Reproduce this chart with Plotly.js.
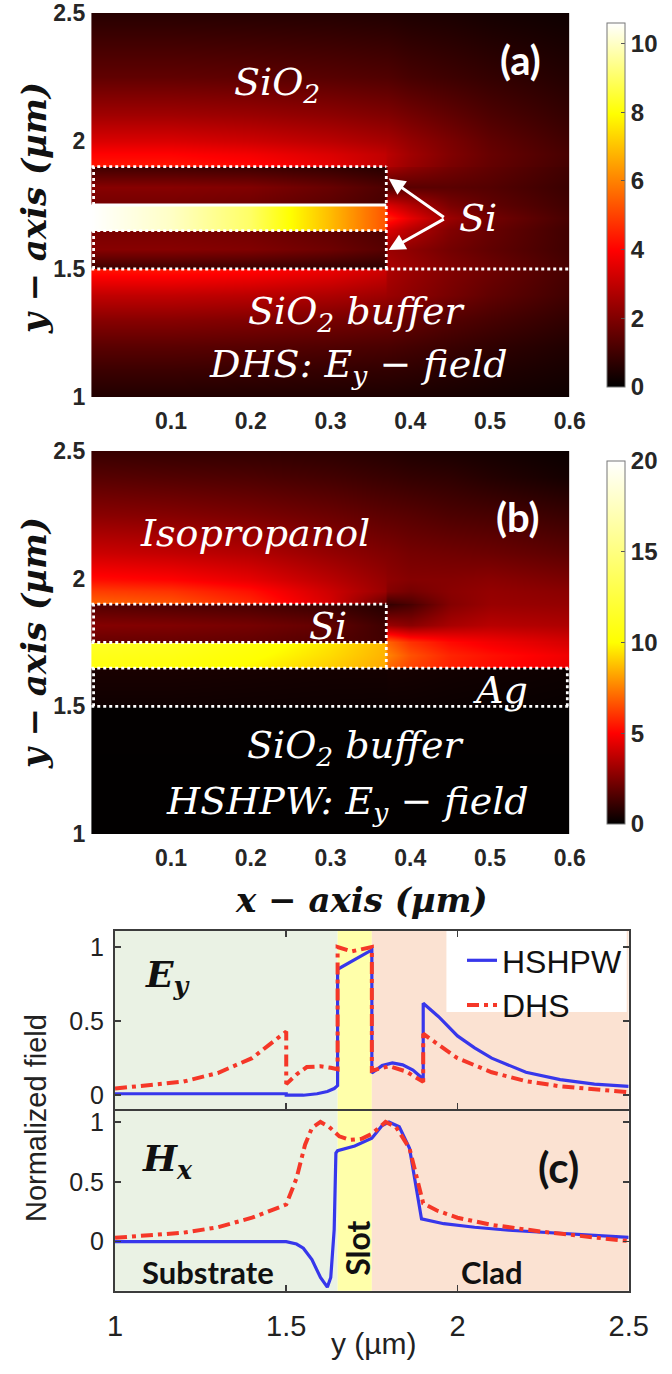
<!DOCTYPE html>
<html><head><meta charset="utf-8">
<script src="https://cdn.plot.ly/plotly-3.0.1.min.js"></script>
<style>html,body{margin:0;padding:0;background:#fff}#chart{width:672px;height:1374px}</style>
</head><body><div id="chart"></div>
<script>
// ---------- DATA ----------
// Panel (a): DHS Ey field map (colour bar 0..10.6)
const xGridA = [0, 0.1, 0.2, 0.3, 0.369, 0.371, 0.4, 0.45, 0.5, 0.6];
const yGridA = [1.0, 1.1, 1.2, 1.3, 1.4, 1.499, 1.501, 1.58, 1.649, 1.651, 1.7, 1.749, 1.751, 1.82, 1.899, 1.901, 1.95, 2.0, 2.1, 2.25, 2.5];
const fieldA = [
  [0.5, 0.5, 0.48, 0.45, 0.43, 0.43, 0.4, 0.35, 0.3, 0.2],
  [0.9, 0.9, 0.86, 0.8, 0.75, 0.75, 0.7, 0.6, 0.5, 0.35],
  [1.4, 1.4, 1.35, 1.25, 1.15, 1.15, 1.05, 0.9, 0.75, 0.5],
  [2.1, 2.1, 2.0, 1.85, 1.7, 1.7, 1.55, 1.3, 1.1, 0.75],
  [3.0, 3.0, 2.9, 2.7, 2.45, 2.4, 2.2, 1.85, 1.5, 1.0],
  [4.3, 4.3, 4.1, 3.7, 3.2, 2.7, 2.4, 2.0, 1.7, 1.1],
  [0.9, 0.9, 0.85, 0.75, 0.65, 2.7, 2.4, 2.0, 1.7, 1.1],
  [2.1, 2.1, 2.0, 1.7, 1.35, 2.4, 2.2, 1.8, 1.5, 1.0],
  [1.9, 1.9, 1.8, 1.5, 1.2, 3.4, 2.8, 2.0, 1.6, 1.0],
  [10.6, 10.0, 9.0, 6.9, 5.3, 3.4, 2.8, 2.0, 1.6, 1.0],
  [10.6, 10.0, 9.0, 6.9, 5.3, 4.5, 3.6, 2.4, 1.8, 1.1],
  [10.6, 10.0, 9.0, 6.9, 5.3, 3.4, 2.8, 1.9, 1.5, 1.0],
  [1.8, 1.8, 1.7, 1.4, 1.1, 3.4, 2.8, 1.9, 1.5, 1.0],
  [2.1, 2.1, 2.0, 1.6, 1.2, 1.2, 1.4, 1.4, 1.3, 0.9],
  [1.0, 1.0, 0.95, 0.8, 0.6, 2.6, 2.2, 1.8, 1.5, 1.0],
  [4.3, 4.3, 4.1, 3.6, 3.0, 2.8, 2.4, 1.9, 1.55, 1.05],
  [4.0, 4.0, 3.8, 3.4, 3.0, 2.9, 2.5, 2.0, 1.6, 1.1],
  [3.4, 3.4, 3.2, 2.9, 2.6, 2.6, 2.3, 1.9, 1.5, 1.0],
  [2.5, 2.5, 2.4, 2.2, 2.0, 2.0, 1.8, 1.5, 1.2, 0.8],
  [1.5, 1.5, 1.45, 1.35, 1.25, 1.25, 1.1, 0.95, 0.8, 0.55],
  [0.6, 0.6, 0.58, 0.55, 0.5, 0.5, 0.45, 0.4, 0.32, 0.22]
];
// Panel (b): HSHPW Ey field map (colour bar 0..20)
const xGridB = [0, 0.1, 0.2, 0.3, 0.369, 0.371, 0.4, 0.45, 0.5, 0.6];
const yGridB = [1.0, 1.499, 1.501, 1.649, 1.651, 1.7, 1.749, 1.751, 1.82, 1.899, 1.901, 1.95, 2.0, 2.1, 2.25, 2.4, 2.5];
const fieldB = [
  [0.03, 0.03, 0.03, 0.03, 0.03, 0.03, 0.03, 0.03, 0.03, 0.03],
  [0.06, 0.06, 0.06, 0.06, 0.06, 0.06, 0.06, 0.06, 0.06, 0.06],
  [0.3, 0.3, 0.28, 0.26, 0.25, 0.25, 0.25, 0.22, 0.2, 0.15],
  [0.5, 0.5, 0.45, 0.4, 0.4, 0.45, 0.42, 0.36, 0.32, 0.25],
  [10.5, 10.3, 9.8, 9.0, 8.3, 7.0, 6.3, 5.6, 5.2, 4.6],
  [11.0, 10.8, 10.2, 9.3, 8.5, 7.6, 6.6, 5.7, 5.3, 4.7],
  [11.5, 11.2, 10.5, 9.5, 8.6, 7.0, 6.0, 5.2, 4.8, 4.2],
  [2.0, 2.0, 1.9, 1.6, 1.3, 7.0, 6.0, 5.2, 4.8, 4.2],
  [2.6, 2.5, 2.3, 1.9, 1.2, 3.0, 2.7, 3.3, 3.6, 3.4],
  [1.6, 1.5, 1.4, 1.1, 0.7, 1.0, 1.4, 2.6, 3.0, 2.9],
  [7.0, 6.7, 5.8, 4.2, 2.0, 1.1, 1.5, 2.6, 3.0, 2.9],
  [6.2, 6.0, 5.3, 4.0, 3.0, 2.6, 2.3, 2.7, 2.9, 2.7],
  [5.2, 5.0, 4.5, 3.6, 2.9, 2.8, 2.6, 2.6, 2.7, 2.4],
  [4.0, 3.8, 3.5, 2.9, 2.5, 2.5, 2.3, 2.2, 2.1, 1.8],
  [2.7, 2.6, 2.4, 2.1, 1.8, 1.8, 1.7, 1.5, 1.4, 1.1],
  [1.7, 1.6, 1.5, 1.3, 1.1, 1.1, 1.0, 0.9, 0.7, 0.4],
  [1.1, 1.0, 0.95, 0.85, 0.7, 0.7, 0.6, 0.5, 0.4, 0.2]
];
// Panel (c): normalized field profiles along y (um)
const eyHshpwY = [1.0, 1.2, 1.4, 1.5, 1.5, 1.55, 1.59, 1.62, 1.64, 1.65, 1.65, 1.75, 1.75, 1.78, 1.81, 1.84, 1.87, 1.9, 1.9, 1.945, 2.0, 2.05, 2.1, 2.2, 2.3, 2.4, 2.5];
const eyHshpwV = [0.01, 0.01, 0.01, 0.01, 0.0, 0.0, 0.01, 0.025, 0.045, 0.065, 0.85, 0.98, 0.15, 0.2, 0.218, 0.205, 0.17, 0.11, 0.62, 0.53, 0.4, 0.32, 0.25, 0.155, 0.105, 0.075, 0.06];
const eyDhsY = [1.0, 1.1, 1.2, 1.3, 1.4, 1.45, 1.5, 1.5, 1.53, 1.56, 1.6, 1.63, 1.65, 1.65, 1.69, 1.75, 1.75, 1.8, 1.85, 1.9, 1.9, 1.945, 2.0, 2.1, 2.2, 2.3, 2.4, 2.5];
const eyDhsV = [0.045, 0.066, 0.092, 0.15, 0.25, 0.34, 0.43, 0.075, 0.14, 0.19, 0.195, 0.185, 0.175, 1.0, 0.97, 1.0, 0.165, 0.196, 0.16, 0.09, 0.415, 0.34, 0.25, 0.155, 0.095, 0.06, 0.037, 0.02];
const hxHshpwY = [1.0, 1.5, 1.53, 1.55, 1.575, 1.6, 1.62, 1.63, 1.64, 1.645, 1.65, 1.7, 1.75, 1.78, 1.8, 1.83, 1.86, 1.895, 1.96, 2.05, 2.15, 2.25, 2.35, 2.5];
const hxHshpwV = [0.0, 0.0, -0.02, -0.055, -0.15, -0.3, -0.38, -0.3, 0.1, 0.74, 0.76, 0.8, 0.865, 0.97, 1.0, 0.96, 0.78, 0.19, 0.15, 0.12, 0.095, 0.078, 0.062, 0.035];
const hxDhsY = [1.0, 1.1, 1.2, 1.3, 1.4, 1.5, 1.53, 1.555, 1.575, 1.6, 1.625, 1.655, 1.685, 1.72, 1.75, 1.79, 1.82, 1.86, 1.9, 1.94, 2.0, 2.1, 2.25, 2.4, 2.5];
const hxDhsV = [0.032, 0.05, 0.075, 0.12, 0.2, 0.31, 0.53, 0.81, 0.95, 1.0, 0.96, 0.88, 0.85, 0.86, 0.9, 1.0, 0.96, 0.78, 0.32, 0.26, 0.2, 0.14, 0.082, 0.035, 0.005];
// region limits for shading, tick labels
const regionEdges = [1.0, 1.65, 1.75, 2.5];
const mapXTicks = [0.1, 0.2, 0.3, 0.4, 0.5, 0.6];
const mapYTicks = [1, 1.5, 2, 2.5];
const mapYTickText = ['1', '1.5', '2', '2.5'];
const cbTicksA = [0, 2, 4, 6, 8, 10];
const cbTicksB = [0, 5, 10, 15, 20];
const profXTicks = [1, 1.5, 2, 2.5];
const profYTicks = [0, 0.5, 1];

// ---------- STYLE / LAYOUT ----------
const W = 672, H = 1374;
const px = v => v / W, py = v => 1 - v / H;
const hotA = [[0, 'rgb(0,0,0)'], [0.375, 'rgb(255,0,0)'], [0.75, 'rgb(255,255,0)'], [1, 'rgb(255,255,255)']];
const hotB = [[0, 'rgb(0,0,0)'], [0.25, 'rgb(255,0,0)'], [0.5, 'rgb(255,255,0)'], [1, 'rgb(255,255,255)']];
const boldTick = {family: 'Liberation Sans, Arial, sans-serif', size: 23, color: '#262626', weight: 'bold'};
const profTick = {family: 'Liberation Sans, Arial, sans-serif', size: 29, color: '#222'};
const profTickY = {family: 'Liberation Sans, Arial, sans-serif', size: 25, color: '#222'};
const frame = '#3c3c3c';

function cb(y0pix, y1pix, tv) {
  return {x: px(612), xanchor: 'left', thickness: 18, lenmode: 'pixels', len: y1pix - y0pix,
    y: py((y0pix + y1pix) / 2), yanchor: 'middle', tickvals: tv, ticks: 'inside', ticklen: 4,
    tickcolor: '#555', outlinewidth: 1, outlinecolor: '#777', tickfont: Object.assign({}, boldTick, {size: 24}), ticklabelpad: 8};
}

const redLine = {color: 'rgb(245,55,40)', width: 4, dash: '12px,5px,4px,5px'};
const blueLine = {color: 'rgb(55,55,235)', width: 3.2};
const traces = [
  {type: 'heatmap', x: xGridA, y: yGridA, z: fieldA, xaxis: 'x', yaxis: 'y', zsmooth: 'best',
   colorscale: hotA, zmin: 0, zmax: 10.6, colorbar: cb(13, 397, cbTicksA), hoverinfo: 'skip', showlegend: false},
  {type: 'heatmap', x: xGridB, y: yGridB, z: fieldB, xaxis: 'x2', yaxis: 'y2', zsmooth: 'best',
   colorscale: hotB, zmin: 0, zmax: 20, colorbar: cb(451, 834, cbTicksB), hoverinfo: 'skip', showlegend: false},
  {type: 'scatter', mode: 'lines', x: eyHshpwY, y: eyHshpwV, xaxis: 'x3', yaxis: 'y3', name: 'HSHPW',
   line: blueLine, legendgroup: 'h'},
  {type: 'scatter', mode: 'lines', x: eyDhsY, y: eyDhsV, xaxis: 'x3', yaxis: 'y3', name: 'DHS',
   line: redLine, legendgroup: 'd'},
  {type: 'scatter', mode: 'lines', x: hxHshpwY, y: hxHshpwV, xaxis: 'x4', yaxis: 'y4', name: 'HSHPW',
   line: blueLine, showlegend: false, legendgroup: 'h'},
  {type: 'scatter', mode: 'lines', x: hxDhsY, y: hxDhsV, xaxis: 'x4', yaxis: 'y4', name: 'DHS',
   line: redLine, showlegend: false, legendgroup: 'd'}
];

const mapX = (dom, anchor) => ({domain: dom, anchor: anchor, range: [0, 0.6], tickvals: mapXTicks,
  ticktext: mapXTicks.map(String), tickfont: boldTick, showgrid: false, zeroline: false, showline: false,
  ticks: '', ticklabelstandoff: 8, fixedrange: true});
const mapY = (dom, anchor) => ({domain: dom, anchor: anchor, range: [1, 2.5], tickvals: mapYTicks,
  ticktext: mapYTickText, tickfont: boldTick, showgrid: false, zeroline: false, showline: false,
  ticks: '', ticklabelstandoff: 5, fixedrange: true});
const profAx = {showgrid: false, zeroline: false, showline: true, mirror: 'ticks', linecolor: frame, linewidth: 2,
  ticks: 'inside', ticklen: 6, tickwidth: 1.5, tickcolor: frame, tickfont: profTick, fixedrange: true};

const profTop = 930.7, profMid = 1109.3, profBot = 1290.7;
const profLeft = 118, profRight = 645;
const pxToY = p => 1 + (p - profLeft) * 1.5 / (profRight - profLeft);

// structure outlines
const segs = [];
function seg(xr, yr, x0, y0, x1, y1, dash) {
  segs.push({type: 'line', xref: xr, yref: yr, x0: x0, y0: y0, x1: x1, y1: y1,
    line: {color: '#fff', width: 2.8, dash: dash}});
}
// (a)
seg('x', 'y', 0, 1.9, 0.37, 1.9, 'dot');
seg('x', 'y', 0, 1.75, 0.37, 1.75, 'solid');
seg('x', 'y', 0, 1.65, 0.37, 1.65, 'dot');
seg('x', 'y', 0, 1.5, 0.6, 1.5, 'dot');
seg('x', 'y', 0.37, 1.5, 0.37, 1.9, 'dot');
seg('x', 'y', 0.003, 1.5, 0.003, 1.65, 'dot');
seg('x', 'y', 0.003, 1.75, 0.003, 1.9, 'dot');
// (b)
seg('x2', 'y2', 0, 1.9, 0.37, 1.9, 'dot');
seg('x2', 'y2', 0, 1.75, 0.37, 1.75, 'dot');
seg('x2', 'y2', 0.37, 1.65, 0.37, 1.9, 'dot');
seg('x2', 'y2', 0.003, 1.75, 0.003, 1.9, 'dot');
seg('x2', 'y2', 0, 1.65, 0.6, 1.65, 'dot');
seg('x2', 'y2', 0, 1.5, 0.6, 1.5, 'dot');
seg('x2', 'y2', 0.003, 1.5, 0.003, 1.65, 'dot');
seg('x2', 'y2', 0.597, 1.5, 0.597, 1.65, 'dot');

const regionColors = ['rgb(234,242,228)', 'rgb(255,255,170)', 'rgb(251,226,210)'];
const regionShapes = regionColors.map((c, i) => ({type: 'rect', xref: 'x3', yref: 'paper', layer: 'below',
  x0: regionEdges[i], x1: regionEdges[i + 1], y0: py(profBot), y1: py(profTop), fillcolor: c, line: {width: 0}}));
const legendBox = {type: 'rect', xref: 'x3', yref: 'paper', layer: 'below', x0: pxToY(458), x1: pxToY(643),
  y0: py(1012), y1: py(profTop), fillcolor: '#fff', line: {width: 0}};

const serifT = (sz, col, wt) => ({family: 'DejaVu Serif, Liberation Serif, serif', size: sz, color: col, style: 'italic', weight: wt || 'normal'});
const lato = (sz, col) => ({family: 'Lato, Liberation Sans, sans-serif', size: sz, color: col, weight: 'bold'});
function lab(text, xp, yp, font, extra) {
  return Object.assign({text: text, xref: 'paper', yref: 'paper', x: px(xp), y: py(yp), xanchor: 'center', yanchor: 'middle',
    showarrow: false, font: font}, extra || {});
}
function arrow(xr, yr, tx, ty, hx, hy) {
  return {text: '', xref: xr, yref: yr, x: hx, y: hy, axref: xr, ayref: yr, ax: tx, ay: ty, showarrow: true,
    arrowhead: 2, arrowsize: 1.1, arrowwidth: 3, arrowcolor: '#fff', standoff: 0, startstandoff: 0};
}

const annotations = [
  lab('y − axis (µm)', 35, 208, serifT(34, '#111', 'bold'), {textangle: -90}),
  lab('y − axis (µm)', 35, 643, serifT(34, '#111', 'bold'), {textangle: -90}),
  lab('x − axis (µm)', 371, 900, serifT(34, '#111', 'bold')),
  lab('(a)', 534, 60, lato(40, '#fff')),
  lab('SiO<sub>2</sub>', 284, 84, serifT(38, '#fff')),
  lab('Si', 490, 218, serifT(38, '#fff')),
  lab('SiO<sub>2</sub> buffer', 366, 313, serifT(38, '#fff')),
  lab('DHS: E<sub>y</sub> − field', 368, 366, serifT(38, '#fff')),
  lab('(b)', 531, 517, lato(40, '#fff')),
  lab('Isopropanol', 262, 533, serifT(38, '#fff')),
  lab('Si', 336, 626, serifT(38, '#fff')),
  lab('Ag', 513, 690, serifT(38, '#fff')),
  lab('SiO<sub>2</sub> buffer', 365, 747, serifT(38, '#fff')),
  lab('HSHPW: E<sub>y</sub> − field', 357, 803, serifT(38, '#fff')),
  arrow('x', 'y', 0.444, 1.698, 0.373, 1.854),
  arrow('x', 'y', 0.444, 1.698, 0.373, 1.574),
  lab('E<sub>y</sub>', 172, 977, serifT(36, '#111', 'bold')),
  lab('H<sub>x</sub>', 172, 1161, serifT(36, '#111', 'bold')),
  lab('(c)', 573, 1167, lato(42, '#111')),
  lab('Substrate', 213, 1272, lato(31, '#111')),
  lab('Slot', 366, 1248, lato(32, '#111'), {textangle: -90}),
  lab('Clad', 505, 1272, lato(31, '#111')),
  lab('Normalized field', 37, 1118, {family: 'Liberation Sans, Arial, sans-serif', size: 29, color: '#222'}, {textangle: -90}),
  lab('y (µm)', 384, 1343, {family: 'Liberation Sans, Arial, sans-serif', size: 30, color: '#222'})
];

const layout = {
  width: W, height: H, margin: {l: 0, r: 0, t: 0, b: 0}, paper_bgcolor: '#fff', plot_bgcolor: 'rgba(0,0,0,0)',
  xaxis: mapX([px(93.6), px(584.5)], 'y'),
  yaxis: mapY([py(397), py(13)], 'x'),
  xaxis2: mapX([px(93.6), px(584.5)], 'y2'),
  yaxis2: mapY([py(834), py(451)], 'x2'),
  xaxis3: Object.assign({}, profAx, {domain: [px(profLeft), px(profRight)], anchor: 'y3', range: [1, 2.5], tickvals: profXTicks, showticklabels: false}),
  yaxis3: Object.assign({}, profAx, {domain: [py(profMid), py(profTop)], anchor: 'x3', range: [-0.095, 1.11], tickvals: profYTicks, ticktext: ['0', '0.5', '1'], tickfont: profTickY, ticklabelstandoff: 4}),
  xaxis4: Object.assign({}, profAx, {domain: [px(profLeft), px(profRight)], anchor: 'y4', mirror: false, range: [1, 2.5], tickvals: profXTicks, ticktext: ['1', '1.5', '2', '2.5'], ticklabelstandoff: 8}),
  yaxis4: Object.assign({}, profAx, {domain: [py(profBot), py(profMid)], anchor: 'x4', range: [-0.41, 1.106], tickvals: profYTicks, ticktext: ['0', '0.5', '1'], tickfont: profTickY, ticklabelstandoff: 4}),
  showlegend: true,
  legend: {x: px(474), y: py(933), xanchor: 'left', yanchor: 'top', bgcolor: 'rgba(0,0,0,0)', borderwidth: 0,
    font: {family: 'Liberation Sans, Arial, sans-serif', size: 32, color: '#111'}, tracegroupgap: 0, itemwidth: 30},
  shapes: regionShapes.concat([legendBox], segs),
  annotations: annotations
};

Plotly.newPlot('chart', traces, layout, {staticPlot: true, displayModeBar: false});
</script>
</body></html>
